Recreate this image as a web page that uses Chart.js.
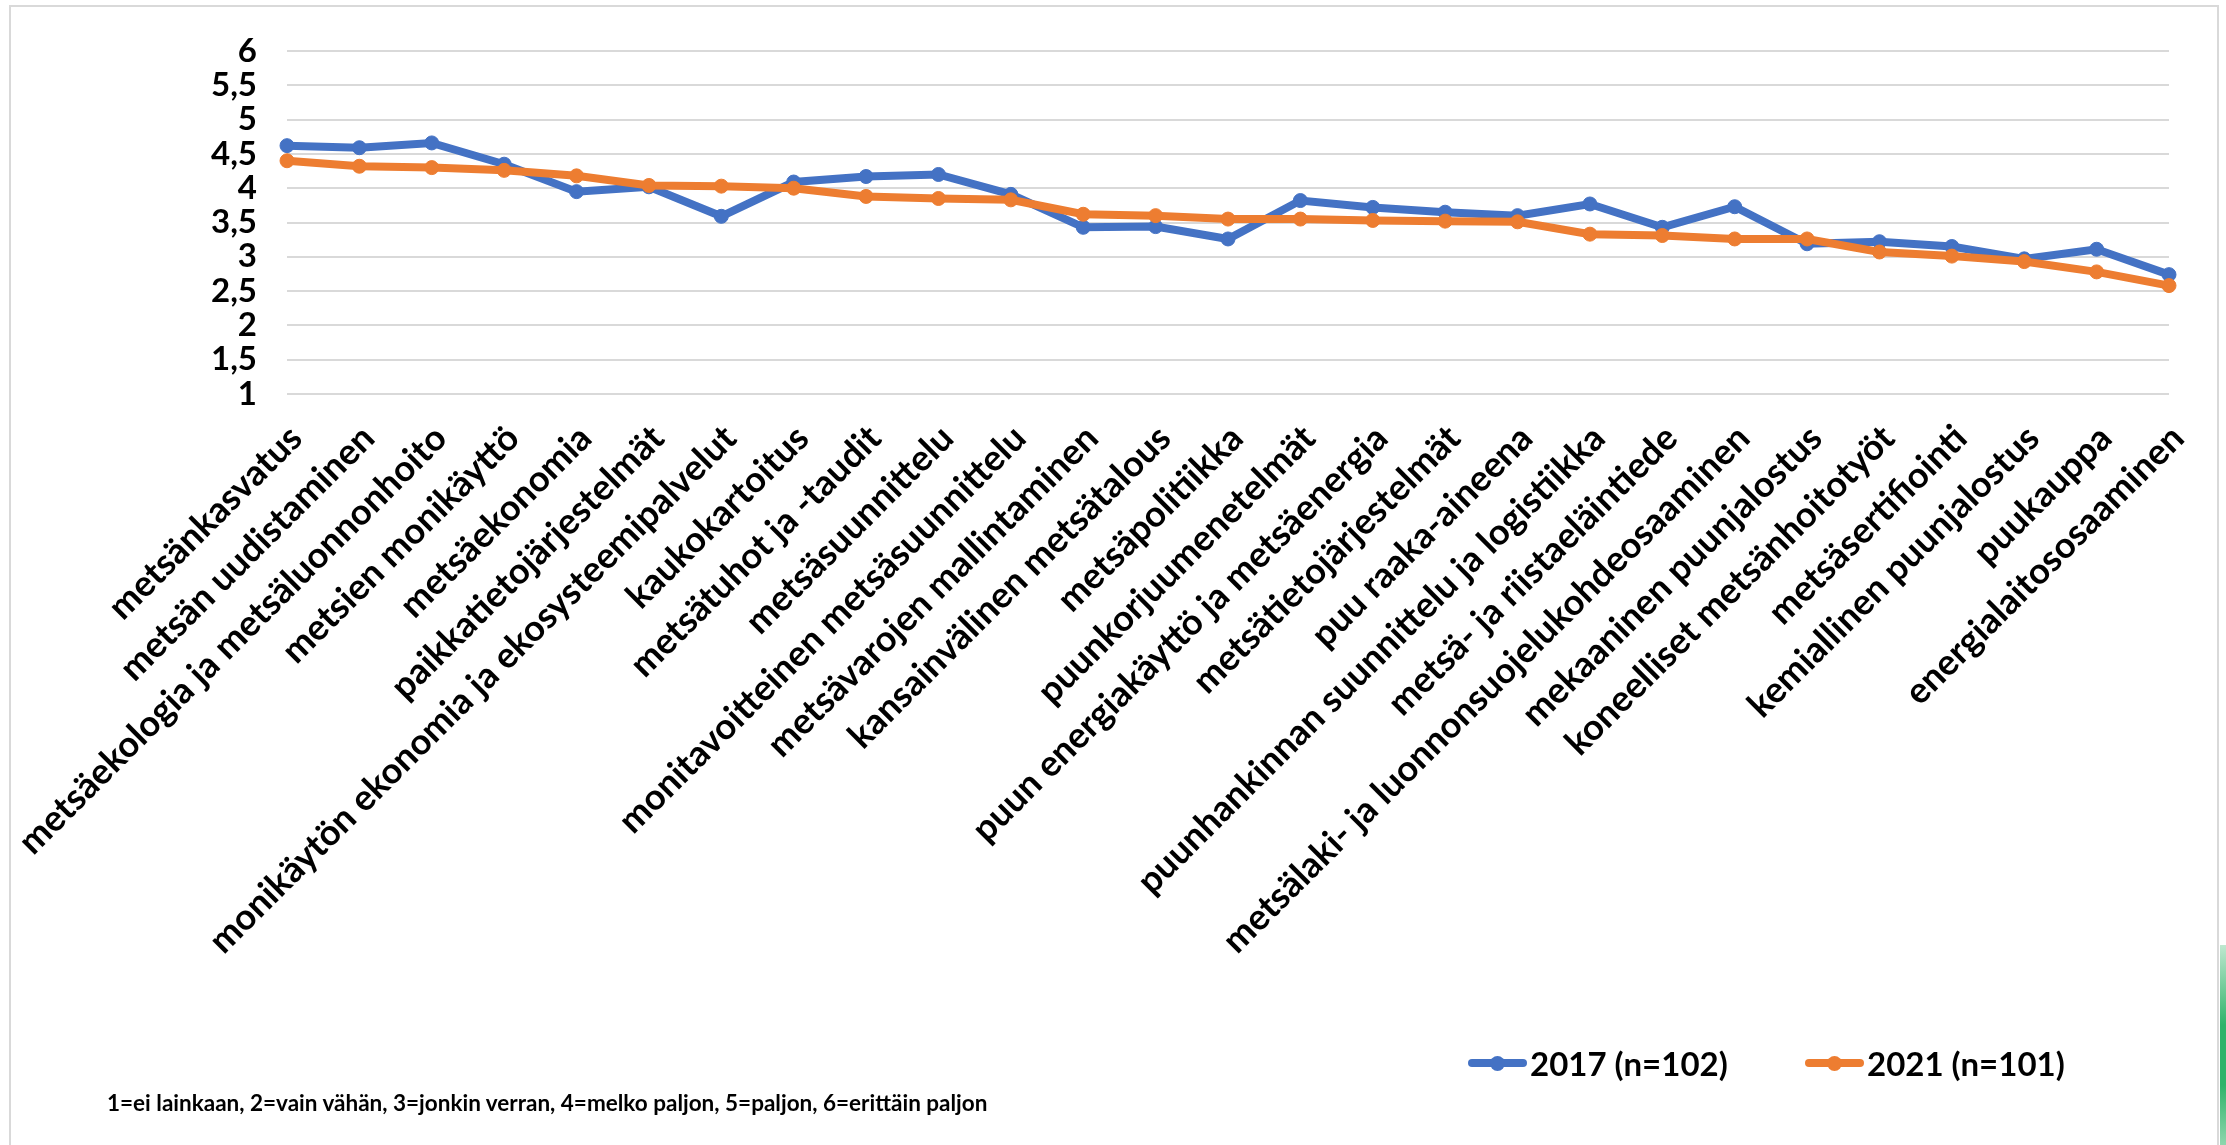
<!DOCTYPE html>
<html><head><meta charset="utf-8">
<script src="https://cdn.jsdelivr.net/npm/chart.js@4/dist/chart.umd.min.js"></script>
<style>
html,body{margin:0;padding:0;background:#fff;width:2226px;height:1145px;overflow:hidden;font-family:Lato,'Open Sans',sans-serif;}
#frame{position:absolute;left:9px;top:5px;width:2210px;height:1160px;border:2px solid #d9d9d9;box-sizing:border-box;}
#green{position:absolute;left:2220px;top:945px;width:6px;height:200px;background:linear-gradient(#bfe8d0,#2fb36a 40%,#2fb36a 70%,#8fd6ad);}
canvas{position:absolute;left:0;top:0;}
.leg{position:absolute;top:1043px;height:40px;line-height:40px;font-weight:bold;font-size:33px;color:#000;white-space:nowrap;}
.mk{position:absolute;top:1059px;width:59px;height:8px;border-radius:4px;}
.dot{position:absolute;top:1056px;width:15px;height:15px;border-radius:8px;}
#note{position:absolute;left:107px;top:1089px;height:28px;line-height:28px;font-weight:bold;font-size:22.5px;color:#000;white-space:nowrap;}
</style></head>
<body>
<div id="frame"></div>
<div id="green"></div>
<canvas id="c" width="2226" height="1145"></canvas>
<div id="legend"></div>
<div id="note"></div>
<script>
const categories = [
  'metsänkasvatus','metsän uudistaminen','metsäekologia ja metsäluonnonhoito','metsien monikäyttö',
  'metsäekonomia','paikkatietojärjestelmät','monikäytön ekonomia ja ekosysteemipalvelut','kaukokartoitus',
  'metsätuhot ja -taudit','metsäsuunnittelu','monitavoitteinen metsäsuunnittelu','metsävarojen mallintaminen',
  'kansainvälinen metsätalous','metsäpolitiikka','puunkorjuumenetelmät','puun energiakäyttö ja metsäenergia',
  'metsätietojärjestelmät','puu raaka-aineena','puunhankinnan suunnittelu ja logistiikka','metsä- ja riistaeläintiede',
  'metsälaki- ja luonnonsuojelukohdeosaaminen','mekaaninen puunjalostus','koneelliset metsänhoitotyöt','metsäsertifiointi',
  'kemiallinen puunjalostus','puukauppa','energialaitososaaminen'
];
const values2017 = [4.62,4.59,4.66,4.35,3.95,4.02,3.59,4.09,4.17,4.20,3.91,3.43,3.44,3.26,3.82,3.72,3.65,3.60,3.77,3.43,3.73,3.19,3.22,3.15,2.97,3.11,2.74];
const values2021 = [4.40,4.32,4.30,4.26,4.18,4.04,4.03,4.00,3.88,3.85,3.83,3.62,3.60,3.55,3.55,3.53,3.52,3.51,3.33,3.31,3.26,3.26,3.07,3.01,2.93,2.78,2.58];
const seriesLabels = ['2017 (n=102)','2021 (n=101)'];
const seriesColors = ['#4472C4','#ED7D31'];
const yTickLabels = ['1','1,5','2','2,5','3','3,5','4','4,5','5','5,5','6'];
const footnote = '1=ei lainkaan, 2=vain vähän, 3=jonkin verran, 4=melko paljon, 5=paljon, 6=erittäin paljon';

function draw(){
  const FONT = 'Lato';
  new Chart(document.getElementById('c'), {
    type: 'line',
    data: {
      labels: categories,
      datasets: [
        {label: seriesLabels[0], data: values2017, borderColor: seriesColors[0], backgroundColor: seriesColors[0],
         pointBackgroundColor: seriesColors[0], pointBorderColor: seriesColors[0], borderWidth: 8, pointRadius: 7,
         pointBorderWidth: 1, tension: 0, order: 1},
        {label: seriesLabels[1], data: values2021, borderColor: seriesColors[1], backgroundColor: seriesColors[1],
         pointBackgroundColor: seriesColors[1], pointBorderColor: seriesColors[1], borderWidth: 8, pointRadius: 7,
         pointBorderWidth: 1, tension: 0, order: 0}
      ]
    },
    options: {
      responsive: false, animation: false, devicePixelRatio: 1,
      layout: {padding: {top: 51, right: 57, left: 0, bottom: 0}},
      plugins: {legend: {display: false}, tooltip: {enabled: false}},
      scales: {
        x: {
          grid: {display: false, drawTicks: false}, border: {display: false},
          ticks: {autoSkip: false, maxRotation: 45, minRotation: 45, padding: 23, labelOffset: 9, color: '#000',
                  font: {family: FONT, weight: 'bold', size: 36}},
          afterFit(s){ s.height = 1145 - 394; }
        },
        y: {
          min: 1, max: 6,
          grid: {color: '#d9d9d9', lineWidth: 2, drawTicks: false}, border: {display: false},
          ticks: {stepSize: 0.5, autoSkip: false, padding: 30, color: '#000', font: {family: FONT, weight: 'bold', size: 33, lineHeight: 1},
                  callback: (v) => yTickLabels[Math.round((v - 1) * 2)]},
          afterFit(s){ s.width = 287; }
        }
      }
    }
  });
  // legend
  const leg = document.getElementById('legend');
  const lx = [1468, 1805];
  seriesLabels.forEach((lab, i) => {
    const m = document.createElement('div'); m.className = 'mk'; m.style.left = lx[i] + 'px'; m.style.background = seriesColors[i]; leg.appendChild(m);
    const d = document.createElement('div'); d.className = 'dot'; d.style.left = (lx[i] + 22) + 'px'; d.style.background = seriesColors[i]; leg.appendChild(d);
    const t = document.createElement('div'); t.className = 'leg'; t.style.left = (lx[i] + 62) + 'px'; t.textContent = lab; leg.appendChild(t);
  });
  document.getElementById('note').textContent = footnote;
}
if (document.fonts && document.fonts.load) {
  document.fonts.load('bold 32px Lato').then(draw, draw);
} else draw();
</script>
</body></html>
